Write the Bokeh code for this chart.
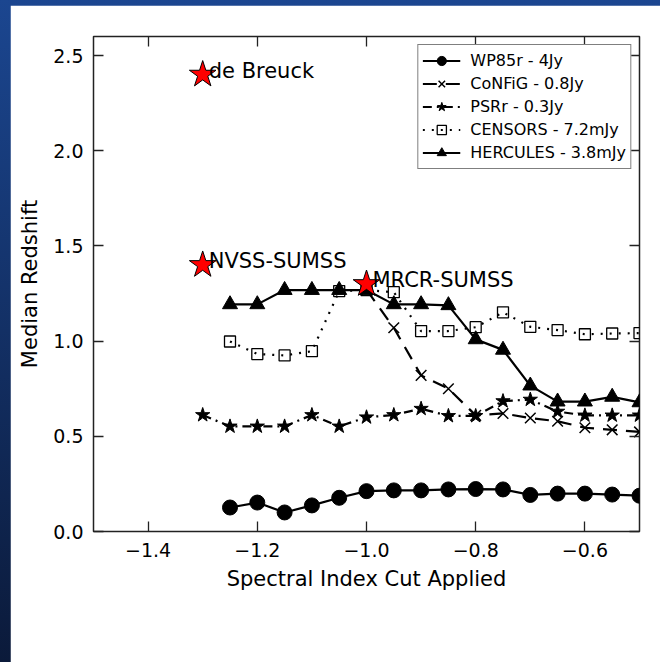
from bokeh.plotting import figure
from bokeh.models import (Range1d, LinearAxis, FixedTicker, CustomJSTickFormatter,
                          Legend, LegendItem)
from bokeh.layouts import column
from bokeh.core.properties import value
from bokeh.embed import file_html
from bokeh.resources import INLINE

# ---------------- data ----------------
cuts = [-1.25, -1.20, -1.15, -1.10, -1.05, -1.00, -0.95, -0.90,
        -0.85, -0.80, -0.75, -0.70, -0.65, -0.60, -0.55, -0.50]

wp85r = [0.126, 0.152, 0.100, 0.137, 0.177, 0.212, 0.216, 0.216,
         0.221, 0.223, 0.221, 0.192, 0.199, 0.199, 0.194, 0.188]

config_x = [-1.00, -0.95, -0.90, -0.85, -0.80, -0.75, -0.70, -0.65, -0.60, -0.55, -0.50]
config = [1.27, 1.07, 0.82, 0.75, 0.61, 0.62, 0.596, 0.579, 0.545, 0.534, 0.523]

psr_x = [-1.30, -1.25, -1.20, -1.15, -1.10, -1.05, -1.00, -0.95, -0.90,
         -0.85, -0.80, -0.75, -0.70, -0.65, -0.60, -0.55, -0.50]
psr = [0.612, 0.552, 0.552, 0.552, 0.612, 0.552, 0.600, 0.612, 0.645,
       0.607, 0.607, 0.685, 0.693, 0.630, 0.610, 0.610, 0.610]

censors = [0.998, 0.932, 0.925, 0.947, 1.263, 1.268, 1.257, 1.053,
           1.053, 1.073, 1.151, 1.075, 1.058, 1.036, 1.040, 1.042]

hercules = [1.193, 1.193, 1.268, 1.268, 1.268, 1.268, 1.193, 1.193,
            1.188, 1.009, 0.954, 0.766, 0.682, 0.682, 0.707, 0.678]

survey_names = ["de Breuck", "NVSS-SUMSS", "MRCR-SUMSS"]
survey_x = [-1.30, -1.30, -1.00]
survey_z = [2.40, 1.40, 1.30]

x_ticks = [-1.4, -1.2, -1.0, -0.8, -0.6]
y_ticks = [0.0, 0.5, 1.0, 1.5, 2.0, 2.5]

# ---------------- figure ----------------
FONT = "DejaVu Sans"
p = figure(width=650, height=657, output_backend="svg", toolbar_location=None,
           x_range=Range1d(-1.5, -0.5), y_range=Range1d(0, 2.6),
           min_border_left=83, min_border_right=21, min_border_top=31,
           min_border_bottom=131, background_fill_color="white",
           border_fill_color="white", outline_line_color="#222222",
           outline_line_width=1.5)
p.margin = (5, 0, 0, 10)
p.grid.visible = False

fmt = CustomJSTickFormatter(code="return tick.toFixed(1).replace('-', '\u2212');")
blank = CustomJSTickFormatter(code="return '';")

for ax in (p.xaxis[0], p.yaxis[0]):
    ax.major_tick_in = 10
    ax.major_tick_out = 0
    ax.minor_tick_in = 0
    ax.minor_tick_out = 0
    ax.axis_line_color = None
    ax.major_tick_line_color = "#222222"
    ax.major_tick_line_width = 1.3
    ax.major_label_text_font = FONT
    ax.major_label_text_font_size = "19px"
    ax.major_label_text_color = "black"
    ax.axis_label_text_font = FONT
    ax.axis_label_text_font_size = "21px"
    ax.axis_label_text_font_style = "normal"
    ax.axis_label_text_color = "black"
    ax.formatter = fmt

p.xaxis[0].ticker = FixedTicker(ticks=x_ticks)
p.yaxis[0].ticker = FixedTicker(ticks=y_ticks)
p.xaxis[0].axis_label = "Spectral Index Cut Applied"
p.yaxis[0].axis_label = "Median Redshift"
p.xaxis[0].major_label_standoff = 11
p.xaxis[0].axis_label_standoff = 7
p.yaxis[0].major_label_standoff = 10
p.yaxis[0].axis_label_standoff = 8

# mirrored ticks on top and right
top = LinearAxis(ticker=FixedTicker(ticks=x_ticks), formatter=blank)
right = LinearAxis(ticker=FixedTicker(ticks=y_ticks), formatter=blank)
for ax in (top, right):
    ax.major_tick_in = 10
    ax.major_tick_out = 0
    ax.minor_tick_in = 0
    ax.minor_tick_out = 0
    ax.axis_line_color = None
    ax.major_tick_line_color = "#222222"
    ax.major_tick_line_width = 1.3
    ax.major_label_standoff = 0
p.add_layout(top, "above")
p.add_layout(right, "right")

# ---------------- series ----------------
r1l = p.line(cuts, wp85r, line_color="black", line_width=2.2)
r1m = p.scatter(cuts, wp85r, marker="circle", size=15, fill_color="black", line_color="black")

r2l = p.line(config_x, config, line_color="black", line_width=2.2, line_dash="14 9")
r2m = p.scatter(config_x, config, marker="x", size=15, line_color="black", line_width=1.5)

r3l = p.line(psr_x, psr, line_color="black", line_width=2.2, line_dash="9 5 2 5")
r3m = p.scatter(psr_x, psr, marker="star", size=15, fill_color="black", line_color="black")

r4l = p.line(cuts, censors, line_color="black", line_width=2.2, line_dash="2 7")
r4m = p.scatter(cuts, censors, marker="square", size=11, fill_color=None,
                line_color="black", line_width=1.3)

r5l = p.line(cuts, hercules, line_color="black", line_width=2.2)
r5m = p.scatter(cuts, hercules, marker="triangle", size=15, fill_color="black", line_color="black")

# surveys (red stars + labels)
p.scatter(survey_x, survey_z, marker="star", size=28, fill_color="red",
          line_color="black", line_width=1)
p.text(survey_x, survey_z, text=survey_names, x_offset=6, y_offset=-4,
       text_font=value(FONT), text_font_size="21px", text_color="black",
       text_align="left", text_baseline="alphabetic")

legend = Legend(items=[
    LegendItem(label="WP85r - 4Jy", renderers=[r1l, r1m]),
    LegendItem(label="CoNFiG - 0.8Jy", renderers=[r2l, r2m]),
    LegendItem(label="PSRr - 0.3Jy", renderers=[r3l, r3m]),
    LegendItem(label="CENSORS - 7.2mJy", renderers=[r4l, r4m]),
    LegendItem(label="HERCULES - 3.8mJy", renderers=[r5l, r5m]),
], location="top_right")
legend.margin = 8
legend.padding = 4
legend.spacing = 0
legend.glyph_width = 38
legend.glyph_height = 23
legend.label_height = 23
legend.label_standoff = 10
legend.label_text_font = FONT
legend.label_text_font_size = "16px"
legend.label_text_color = "black"
legend.border_line_color = "black"
legend.border_line_width = 1.5
legend.background_fill_color = "white"
legend.background_fill_alpha = 1.0
p.add_layout(legend)

layout = column(p, width=660, height=662,
                styles={"background": "linear-gradient(to bottom, #1b4690, #0b1a3a)"})

open("out.html", "w").write(file_html(layout, INLINE))
